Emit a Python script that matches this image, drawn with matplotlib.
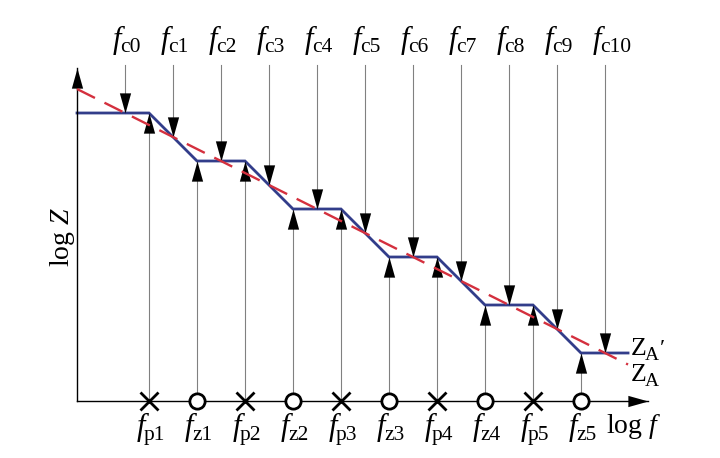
import numpy as np
import matplotlib
matplotlib.use("Agg")
import matplotlib.pyplot as plt
from matplotlib.path import Path

plt.rcParams['mathtext.fontset'] = 'custom'
plt.rcParams['mathtext.rm'] = 'Liberation Serif'
plt.rcParams['mathtext.it'] = 'Liberation Serif:italic'
plt.rcParams['mathtext.bf'] = 'Liberation Serif:bold'
plt.rcParams['font.family'] = ['Liberation Serif', 'DejaVu Serif']

# ---- data (log-frequency / log-impedance units) ----
fp = [1.5, 3.5, 5.5, 7.5, 9.5]          # poles
fz = [2.5, 4.5, 6.5, 8.5, 10.5]         # zeros
fc = [1, 2, 3, 4, 5, 6, 7, 8, 9, 10, 11]  # corner frequencies fc0..fc10
pole_subs = ['p1', 'p2', 'p3', 'p4', 'p5']
zero_subs = ['z1', 'z2', 'z3', 'z4', 'z5']
fc_subs = ['c0', 'c1', 'c2', 'c3', 'c4', 'c5', 'c6', 'c7', 'c8', 'c9', 'c10']

# piecewise approximation Z_A' (breakpoints)
za_prime_x = [0, 1.5, 2.5, 3.5, 4.5, 5.5, 6.5, 7.5, 8.5, 9.5, 10.5, 11.48]
za_prime_y = [6, 6, 5, 5, 4, 4, 3, 3, 2, 2, 1, 1]
# ideal straight Z_A
za_x = [0, 11.48]
za_y = [6.5, 0.76]

x_axis_end = 11.9
y_axis_end = 6.94
top_start = 7.0

BLUE = '#323d8a'
RED = '#d4303e'
GRAY = '#808080'

fig = plt.figure(figsize=(7.2, 4.58), dpi=100)
ax = fig.add_axes([0, 0, 1, 1])
ax.set_xlim(-77 / 48, (720 - 77) / 48)
ax.set_ylim((401 - 458) / 48, 401 / 48)
ax.axis('off')

PX = 0.72  # points per pixel at dpi 100

# arrowhead marker (tip at origin, pointing up)
def head(angle):
    verts = np.array([(0, 0), (-0.28, -1), (0.28, -1), (0, 0)])
    th = np.deg2rad(angle)
    R = np.array([[np.cos(th), -np.sin(th)], [np.sin(th), np.cos(th)]])
    v = verts @ R.T
    return Path(v, [Path.MOVETO, Path.LINETO, Path.LINETO, Path.CLOSEPOLY])

HEAD_MS = 29
up = head(0)
down = head(180)
right = head(-90)

def zp(x):
    return np.interp(x, za_prime_x, za_prime_y)

# axes
ax.plot([0, 0], [0, y_axis_end], color='black', lw=1.0, zorder=3)
ax.plot([0, x_axis_end], [0, 0], color='black', lw=1.0, zorder=3)
ax.plot([0], [y_axis_end], marker=up, ms=HEAD_MS, color='black', mew=0, zorder=3)
ax.plot([x_axis_end], [0], marker=right, ms=HEAD_MS, color='black', mew=0, zorder=3)

# down arrows from the top at corner frequencies
for x in fc:
    t = zp(x)
    ax.plot([x, x], [top_start, t], color=GRAY, lw=0.8, zorder=1)
    ax.plot([x], [t], marker=down, ms=HEAD_MS, color='black', mew=0, zorder=3)

# up arrows from poles and zeros
for x in fp + fz:
    t = zp(x)
    ax.plot([x, x], [0, t], color=GRAY, lw=0.8, zorder=1)
    ax.plot([x], [t], marker=up, ms=HEAD_MS, color='black', mew=0, zorder=3)

# curves
ax.plot(za_prime_x, za_prime_y, color=BLUE, lw=2.0, zorder=2, solid_joinstyle='miter')
ax.plot(za_x, za_y, color=RED, lw=1.7, dashes=(8.5, 4.5), zorder=4)

# pole / zero markers
ax.plot(fp, [0] * len(fp), ls='none', marker='x', ms=13, mew=2.0, color='black', zorder=5)
ax.plot(fz, [0] * len(fz), ls='none', marker='o', ms=11, mew=2.0, mfc='white', mec='black', zorder=5)

FS_MAIN = 22
FS_SUB = 15.5

def flabel(x, y, sub, drop=4.5):
    ax.annotate('f', xy=(x, y), xytext=(-4 * PX, 0), textcoords='offset points',
                ha='right', va='baseline', fontsize=FS_MAIN, fontstyle='italic')
    ax.annotate(sub, xy=(x, y), xytext=(-5 * PX, -drop * PX), textcoords='offset points',
                ha='left', va='baseline', fontsize=FS_SUB)

TOP_BASE = (401 - 48.5) / 48
BOT_BASE = (401 - 434.5) / 48
for x, s in zip(fc, fc_subs):
    flabel(x, TOP_BASE, s, drop=4)
for x, s in zip(fp, pole_subs):
    flabel(x, BOT_BASE, s, drop=5.5)
for x, s in zip(fz, zero_subs):
    flabel(x, BOT_BASE, s, drop=5.5)

ax.text((606 - 77) / 48, (401 - 433) / 48, r'$\log\,f$', ha='left', va='baseline', fontsize=20)
ax.text(-0.31, 3.42, r'$\log\,Z$', ha='center', va='center', fontsize=20, rotation=90)

def zlabel(y_base_px, prime):
    xz = (631 - 77) / 48
    yb = (401 - y_base_px) / 48
    ax.annotate('Z', xy=(xz, yb), xytext=(0, 0), textcoords='offset points',
                ha='left', va='baseline', fontsize=18.5)
    ax.annotate('A', xy=(xz, yb), xytext=(14 * PX, -5 * PX), textcoords='offset points',
                ha='left', va='baseline', fontsize=14)
    if prime:
        ax.annotate('\u2032', xy=(xz, yb), xytext=(29 * PX, 0), textcoords='offset points',
                    ha='left', va='baseline', fontsize=17)

zlabel(355, True)
zlabel(381, False)

fig.savefig('out.png', dpi=100)
